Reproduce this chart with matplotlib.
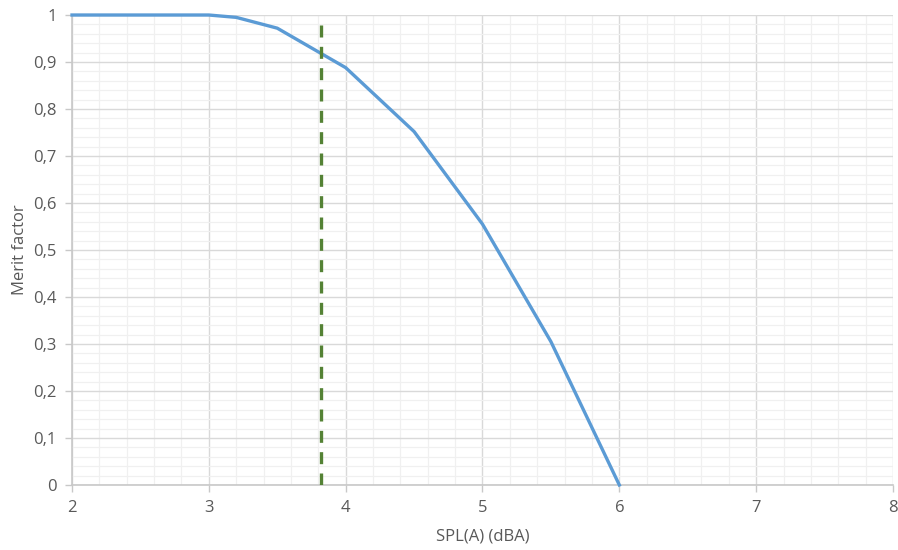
import matplotlib
matplotlib.use("Agg")
import matplotlib.pyplot as plt
from matplotlib.ticker import MultipleLocator, FuncFormatter

plt.rcParams['font.family'] = ['Open Sans', 'DejaVu Sans']

# Merit factor as a function of A-weighted SPL
spl = [2, 3, 3.2, 3.5, 4, 4.5, 5, 5.5, 6]
merit = [1.0, 1.0, 0.995, 0.972, 0.888, 0.752, 0.555, 0.305, 0.0]

# Threshold marker
threshold_x = 3.82
threshold_top = 0.98

fig = plt.figure(figsize=(8.98, 5.5), dpi=100)
ax = fig.add_axes([0.0802, 0.1182, 0.9142, 0.8545])

ax.set_xlim(2, 8)
ax.set_ylim(0, 1)

ax.xaxis.set_major_locator(MultipleLocator(1))
ax.xaxis.set_minor_locator(MultipleLocator(0.2))
ax.yaxis.set_major_locator(MultipleLocator(0.1))
ax.yaxis.set_minor_locator(MultipleLocator(0.02))

def comma_fmt(v, pos):
    s = f"{v:.1f}".rstrip('0').rstrip('.')
    return s.replace('.', ',')

ax.yaxis.set_major_formatter(FuncFormatter(comma_fmt))
ax.xaxis.set_major_formatter(FuncFormatter(lambda v, p: f"{v:g}"))

ax.grid(which='minor', color='#f0f0f0', linewidth=0.9, zorder=0)
ax.grid(which='major', color='#d9d9d9', linewidth=1.0, zorder=0)
ax.set_axisbelow(True)

for side in ['top', 'right']:
    ax.spines[side].set_visible(False)
for side in ['left', 'bottom']:
    ax.spines[side].set_color('#c8c8c8')
    ax.spines[side].set_linewidth(1.2)

ax.tick_params(which='major', direction='out', length=5, width=1, color='#c8c8c8',
               labelcolor='#595959', labelsize=12, pad=6)
ax.tick_params(which='minor', length=0)

ax.plot(spl, merit, color='#5b9bd5', linewidth=2.4, zorder=3, clip_on=False,
        solid_joinstyle='round')
ax.plot([threshold_x, threshold_x], [0, threshold_top], color='#548235', linewidth=2.4,
        linestyle=(0, (3.6, 2.8)), zorder=4)

ax.set_xlabel('SPL(A) (dBA)', color='#595959', fontsize=12, labelpad=9)
ax.set_ylabel('Merit factor', color='#595959', fontsize=12, labelpad=4)

fig.savefig('out.png', dpi=100)
